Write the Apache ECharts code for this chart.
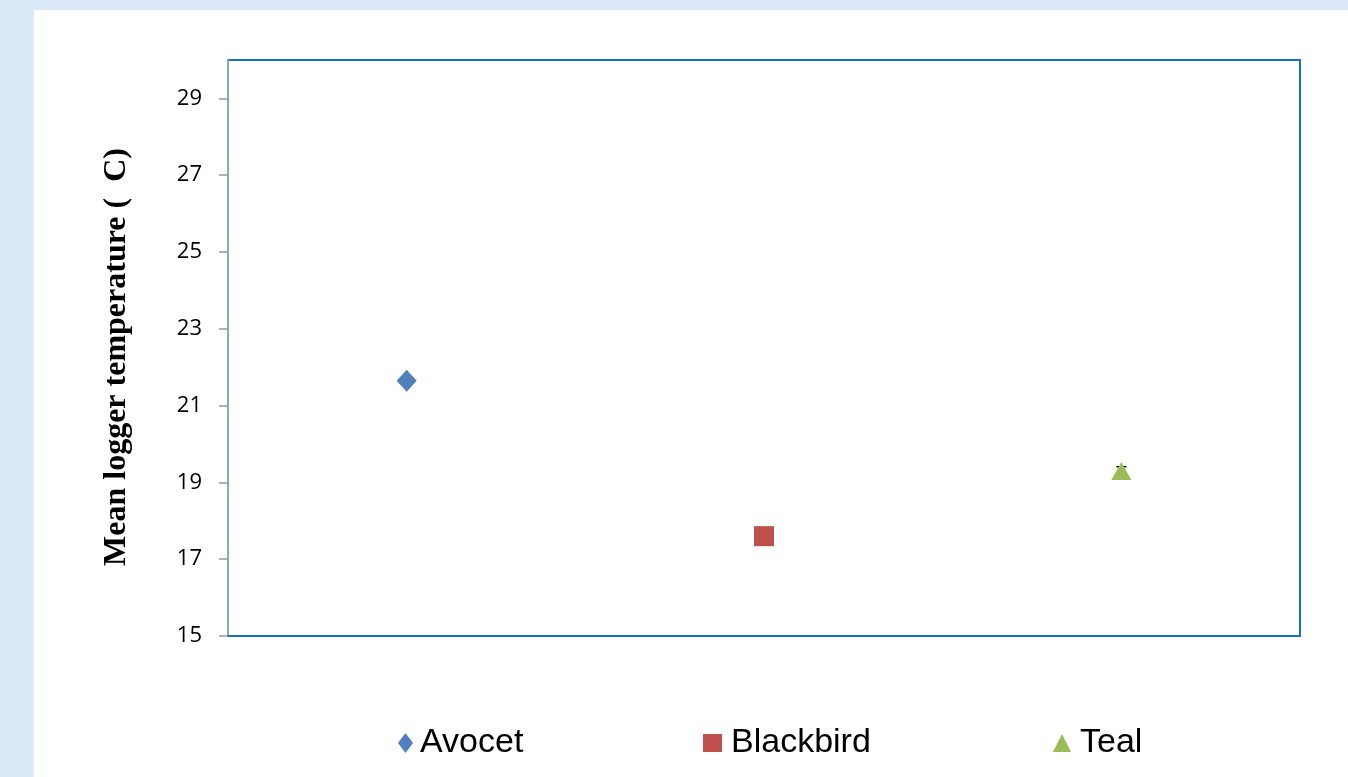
<!DOCTYPE html>
<html>
<head>
<meta charset="utf-8">
<script src="https://cdn.jsdelivr.net/npm/echarts@6/dist/echarts.min.js"></script>
<style>
  html, body { margin: 0; padding: 0; background: #dbe9f8; }
  #main { position: absolute; left: 34px; top: 10px; width: 1314px; height: 767px; background: #fff; }
</style>
</head>
<body>
<div id="main"></div>
<script>
// data
var categories = ['Avocet', 'Blackbird', 'Teal']
var meanTemp = [21.65, 17.6, 19.3]
var errors = [0.05, 0.05, 0.11]
var colors = ['#4f81bd', '#c0504d', '#9bbb59']
var symbols = ['diamond', 'rect', 'triangle']
var symbolSizes = [[20, 22], [20, 20], [20, 18]]

var chart = echarts.init(document.getElementById('main'))

var series = categories.map(function (name, i) {
  return {
    name: name,
    type: 'scatter',
    symbol: symbols[i],
    symbolSize: symbolSizes[i],
    itemStyle: { color: colors[i], opacity: 1 },
    data: [[i, meanTemp[i]]],
    z: 5
  }
})

// error bars, drawn under the markers
series.push({
  type: 'custom',
  name: 'err',
  z: 2,
  renderItem: function (params, api) {
    var x = api.value(0)
    var hi = api.coord([x, api.value(1) + api.value(2)])
    var lo = api.coord([x, api.value(1) - api.value(2)])
    var w = 5
    var st = { stroke: '#000', lineWidth: 1.5 }
    return {
      type: 'group',
      children: [
        { type: 'line', shape: { x1: hi[0], y1: hi[1], x2: lo[0], y2: lo[1] }, style: st },
        { type: 'line', shape: { x1: hi[0] - w, y1: hi[1], x2: hi[0] + w, y2: hi[1] }, style: st },
        { type: 'line', shape: { x1: lo[0] - w, y1: lo[1], x2: lo[0] + w, y2: lo[1] }, style: st }
      ]
    }
  },
  data: categories.map(function (c, i) { return [i, meanTemp[i], errors[i]] })
})

// one legend per item so each sits where it does in the picture
var legendLeft = [359, 664, 1014]
var legendIcon = [[15, 20], [19, 18], [18, 18]]
var legendPad = [2, 4, 4]
var legends = categories.map(function (name, i) {
  return {
    data: [{ name: name, icon: symbols[i], itemStyle: { color: colors[i], opacity: 1 } }],
    left: legendLeft[i],
    top: 711,
    itemWidth: legendIcon[i][0],
    itemHeight: legendIcon[i][1],
    selectedMode: false,
    textStyle: {
      fontFamily: 'Liberation Sans',
      fontSize: 34,
      color: '#000',
      padding: [0, 0, 0, legendPad[i]]
    }
  }
})

var option = {
  animation: false,
  grid: {
    left: 194,
    top: 50,
    right: 48,
    bottom: 141,
    show: true,
    borderColor: '#1672c8',
    borderWidth: 2
  },
  xAxis: {
    type: 'category',
    data: categories,
    boundaryGap: true,
    axisLine: { show: true, lineStyle: { color: '#1672c8', width: 2 } },
    axisTick: { show: false },
    axisLabel: { show: false }
  },
  yAxis: {
    type: 'value',
    min: 15,
    max: 30,
    interval: 2,
    name: 'Mean logger temperature (  C)',
    nameLocation: 'middle',
    nameGap: 95,
    nameTextStyle: {
      fontFamily: 'Liberation Serif',
      fontWeight: 'bold',
      fontSize: 32,
      color: '#000',
      padding: [0, 18, 0, 0]
    },
    axisLine: { show: true, lineStyle: { color: '#8ba6c2', width: 2 } },
    axisTick: { show: true, inside: false, length: 9, lineStyle: { color: '#999', width: 1.5 } },
    axisLabel: {
      margin: 26,
      color: '#000',
      fontFamily: 'Open Sans',
      fontSize: 22,
      showMaxLabel: false
    },
    splitLine: { show: false }
  },
  legend: legends,
  series: series
}

chart.setOption(option)
</script>
</body>
</html>
